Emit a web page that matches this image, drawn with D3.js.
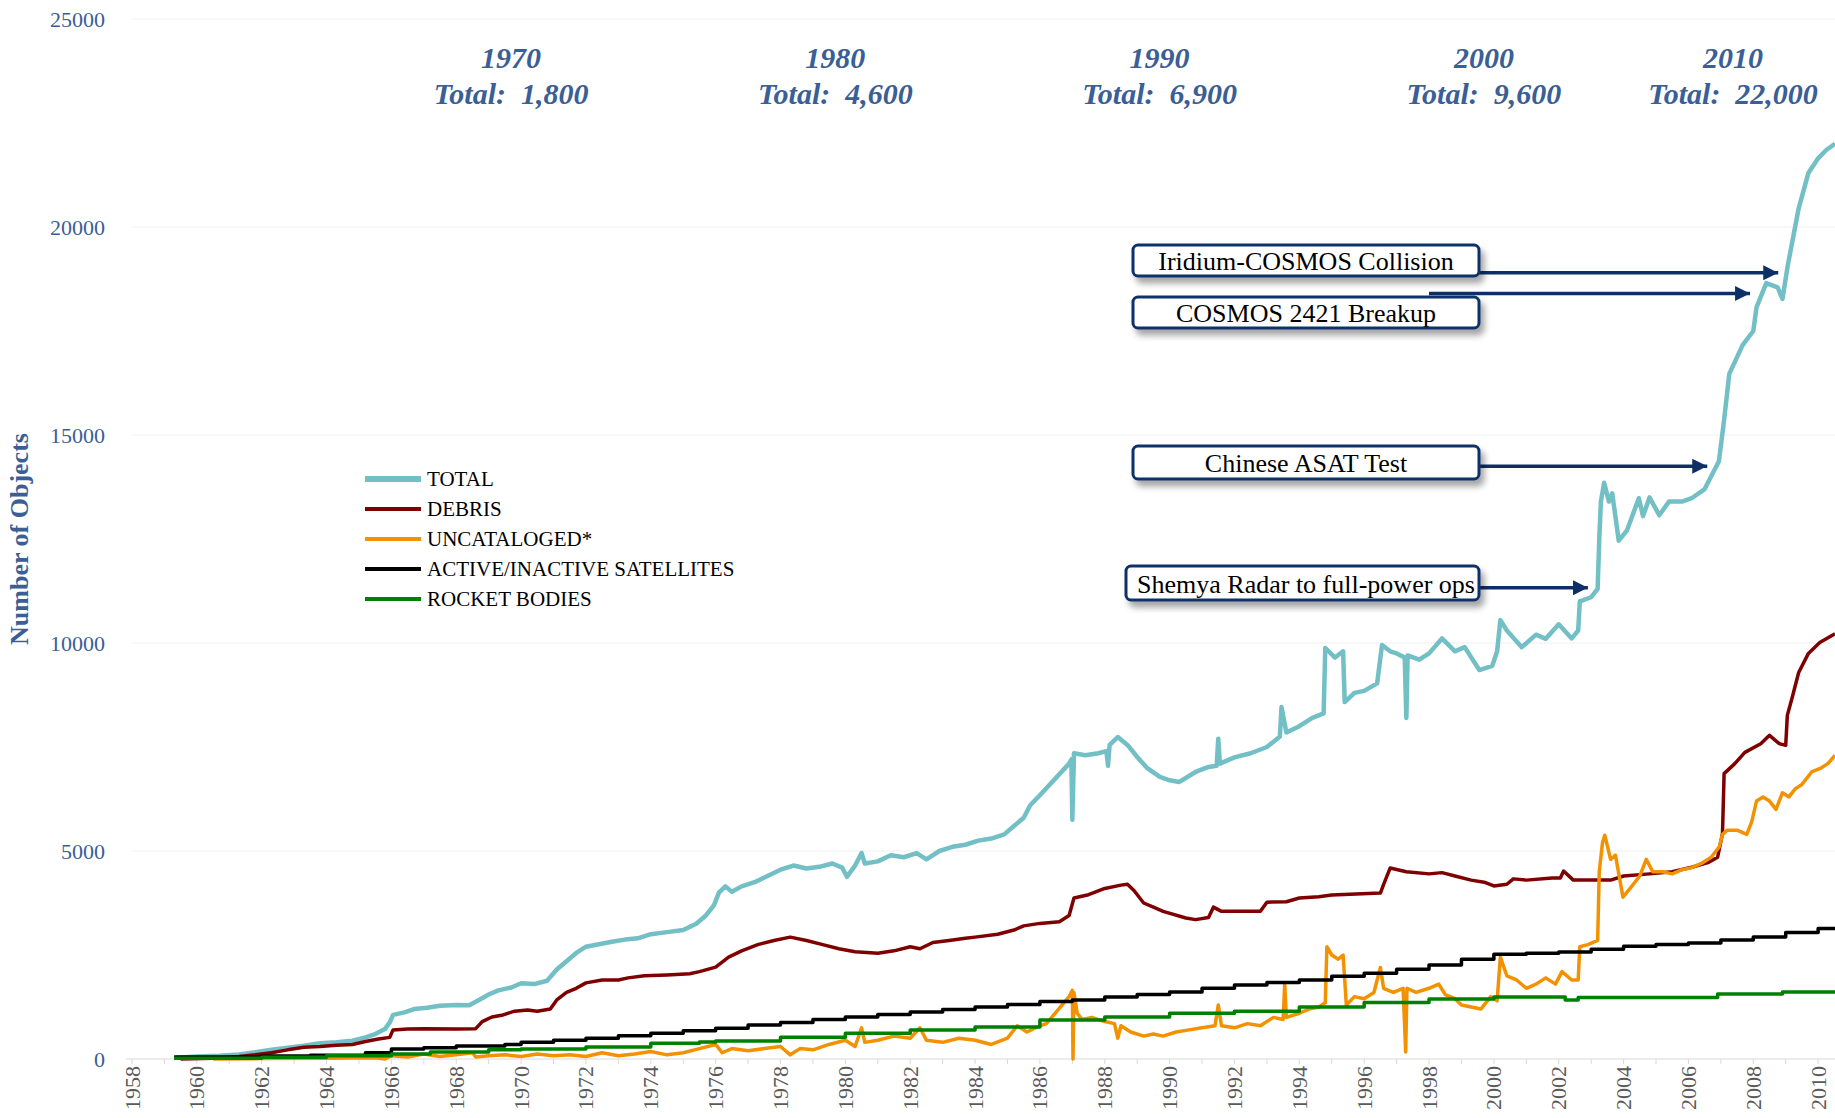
<!DOCTYPE html>
<html>
<head>
<meta charset="utf-8">
<script src="https://cdn.jsdelivr.net/npm/d3@7"></script>
<style>
body {margin: 0; background: #fff;}
svg {display: block;}
</style>
</head>
<body>
<svg id="chart"></svg>
<script>
// values: [year, number of objects]
var totalSeries = [[1959.35,30],[1960,60],[1960.7,80],[1961.3,110],[1961.8,160],[1962.3,220],[1962.8,270],[1963.3,320],[1963.8,380],[1964.3,400],[1964.8,440],[1965.2,520],[1965.5,600],[1965.8,720],[1965.95,880],[1966.05,1060],[1966.4,1120],[1966.7,1200],[1967.1,1230],[1967.5,1280],[1968,1300],[1968.4,1290],[1968.7,1420],[1969,1550],[1969.3,1650],[1969.7,1720],[1970,1820],[1970.4,1800],[1970.8,1880],[1971.1,2150],[1971.4,2350],[1971.7,2550],[1972,2700],[1972.4,2760],[1972.8,2820],[1973.2,2870],[1973.6,2900],[1974,3000],[1974.5,3050],[1975,3100],[1975.4,3250],[1975.7,3450],[1975.95,3700],[1976.1,4000],[1976.3,4150],[1976.5,4020],[1976.8,4150],[1977.2,4250],[1977.6,4400],[1978,4550],[1978.4,4650],[1978.8,4580],[1979.2,4620],[1979.6,4700],[1979.9,4600],[1980.05,4380],[1980.3,4650],[1980.5,4950],[1980.6,4700],[1981,4750],[1981.4,4900],[1981.8,4850],[1982.2,4950],[1982.5,4800],[1982.9,5000],[1983.3,5100],[1983.7,5150],[1984.1,5250],[1984.5,5300],[1984.9,5400],[1985.2,5600],[1985.5,5800],[1985.7,6100],[1985.95,6300],[1986.9,7100],[1986.97,7200],[1987.0,5750],[1987.05,7350],[1987.4,7300],[1987.8,7350],[1988.05,7400],[1988.1,7050],[1988.15,7550],[1988.4,7740],[1988.7,7550],[1989,7260],[1989.3,7000],[1989.7,6780],[1990,6700],[1990.3,6660],[1990.8,6900],[1991.2,7020],[1991.45,7050],[1991.5,7700],[1991.55,7100],[1992,7250],[1992.5,7350],[1993,7500],[1993.4,7750],[1993.45,8460],[1993.6,7850],[1994,8000],[1994.4,8200],[1994.75,8310],[1994.8,9880],[1995.1,9650],[1995.35,9800],[1995.4,8580],[1995.7,8800],[1996,8850],[1996.4,9030],[1996.55,9950],[1996.8,9800],[1997,9750],[1997.25,9650],[1997.3,8200],[1997.34,9700],[1997.7,9600],[1998,9750],[1998.4,10110],[1998.8,9800],[1999.1,9900],[1999.55,9350],[1999.95,9450],[2000.1,9800],[2000.2,10550],[2000.4,10300],[2000.86,9900],[2001.3,10200],[2001.6,10100],[2002,10450],[2002.4,10110],[2002.6,10300],[2002.65,11000],[2003,11100],[2003.2,11300],[2003.25,12500],[2003.3,13400],[2003.4,13850],[2003.55,13400],[2003.65,13600],[2003.85,12460],[2004.1,12700],[2004.47,13480],[2004.6,13050],[2004.8,13500],[2005.1,13070],[2005.4,13400],[2005.8,13400],[2006.1,13480],[2006.5,13700],[2006.75,14080],[2006.94,14370],[2007.1,15360],[2007.26,16470],[2007.67,17160],[2008,17500],[2008.1,18070],[2008.4,18650],[2008.75,18550],[2008.9,18270],[2009.06,19060],[2009.4,20450],[2009.7,21300],[2010,21650],[2010.25,21850],[2010.52,22000]]

var debrisSeries = [[1959.5,0],[1960.5,20],[1961.3,60],[1961.8,100],[1962.3,150],[1962.8,220],[1963.3,280],[1963.8,300],[1964.3,330],[1964.8,350],[1965.2,420],[1965.6,480],[1965.95,520],[1966.05,700],[1966.5,720],[1967,730],[1968,720],[1968.6,730],[1968.8,900],[1969.1,1010],[1969.4,1050],[1969.8,1150],[1970.2,1180],[1970.5,1150],[1970.9,1200],[1971.1,1420],[1971.4,1600],[1971.7,1700],[1972,1830],[1972.5,1900],[1973,1900],[1973.3,1950],[1973.8,2000],[1974.5,2020],[1975.2,2050],[1975.5,2100],[1976,2210],[1976.4,2450],[1976.8,2600],[1977.3,2750],[1977.8,2850],[1978.3,2930],[1978.8,2850],[1979.3,2750],[1979.8,2650],[1980.3,2580],[1981,2540],[1981.5,2600],[1982,2700],[1982.3,2650],[1982.7,2800],[1983.2,2850],[1983.7,2900],[1984,2930],[1984.7,3000],[1985.2,3100],[1985.5,3200],[1986,3260],[1986.6,3300],[1986.9,3450],[1987.05,3870],[1987.5,3950],[1988,4100],[1988.5,4180],[1988.7,4200],[1988.9,4050],[1989.2,3750],[1989.5,3650],[1989.8,3550],[1990.5,3390],[1990.8,3350],[1991.2,3400],[1991.35,3650],[1991.6,3550],[1992,3550],[1992.8,3550],[1993,3770],[1993.6,3780],[1994,3870],[1994.6,3900],[1995,3940],[1996.5,3990],[1996.6,4200],[1996.8,4590],[1997.3,4500],[1998,4450],[1998.4,4480],[1998.8,4400],[1999.3,4300],[1999.7,4250],[2000,4160],[2000.4,4200],[2000.6,4330],[2001,4300],[2001.8,4350],[2002.05,4350],[2002.15,4520],[2002.45,4300],[2003,4300],[2003.6,4300],[2004,4400],[2004.8,4450],[2005.5,4500],[2006.1,4610],[2006.6,4720],[2006.9,4850],[2007.05,5420],[2007.1,6860],[2007.43,7100],[2007.74,7370],[2008.23,7580],[2008.5,7780],[2008.8,7580],[2009.0,7540],[2009.05,8260],[2009.2,8690],[2009.4,9290],[2009.7,9750],[2010.05,10010],[2010.52,10220]]

var uncatSeries = [[1960.5,0],[1962,10],[1964,20],[1965.5,30],[1965.8,0],[1966,80],[1966.5,50],[1967,120],[1967.5,60],[1968,100],[1968.5,150],[1968.6,50],[1969,80],[1969.5,100],[1970,60],[1970.5,120],[1971,80],[1971.5,100],[1972,60],[1972.5,150],[1973,80],[1973.5,120],[1974,180],[1974.5,100],[1975,150],[1975.5,250],[1976,350],[1976.2,150],[1976.5,250],[1977,200],[1977.5,250],[1978,300],[1978.3,100],[1978.6,250],[1979,220],[1979.5,350],[1980,450],[1980.3,300],[1980.5,750],[1980.6,400],[1981,450],[1981.5,550],[1982,500],[1982.3,750],[1982.5,450],[1983,400],[1983.5,500],[1984,450],[1984.5,350],[1985,500],[1985.3,800],[1985.6,650],[1986,800],[1986.2,850],[1986.9,1500],[1987.0,1650],[1987.02,0],[1987.05,1600],[1987.15,1100],[1987.3,950],[1987.6,1000],[1988,900],[1988.3,850],[1988.4,500],[1988.5,800],[1988.8,650],[1989.2,550],[1989.5,600],[1989.8,550],[1990.2,650],[1990.6,700],[1991,750],[1991.4,800],[1991.5,1300],[1991.6,800],[1992,750],[1992.4,850],[1992.8,800],[1993.2,1000],[1993.5,950],[1993.55,1800],[1993.6,1000],[1994,1100],[1994.3,1200],[1994.6,1250],[1994.8,1350],[1994.85,2700],[1995,2500],[1995.2,2400],[1995.35,2500],[1995.45,1300],[1995.7,1500],[1996,1450],[1996.3,1600],[1996.5,2200],[1996.6,1700],[1996.9,1600],[1997.2,1700],[1997.28,170],[1997.32,1700],[1997.6,1600],[1998,1700],[1998.3,1800],[1998.5,1550],[1998.8,1450],[1999,1300],[1999.3,1250],[1999.6,1200],[1999.9,1500],[2000.1,1400],[2000.2,2450],[2000.4,2000],[2000.7,1900],[2001,1700],[2001.3,1800],[2001.6,1950],[2001.9,1800],[2002.1,2100],[2002.4,1900],[2002.6,1900],[2002.65,2700],[2002.9,2750],[2003.2,2850],[2003.25,4500],[2003.35,5200],[2003.42,5380],[2003.6,4800],[2003.75,4900],[2003.98,3890],[2004.2,4100],[2004.5,4400],[2004.7,4800],[2004.9,4500],[2005.2,4500],[2005.5,4450],[2005.8,4550],[2006.1,4600],[2006.4,4700],[2006.7,4850],[2006.95,5100],[2007.05,5400],[2007.2,5500],[2007.5,5500],[2007.8,5400],[2007.95,5700],[2008.1,6200],[2008.3,6300],[2008.5,6200],[2008.7,6000],[2008.9,6400],[2009.1,6300],[2009.3,6500],[2009.5,6600],[2009.8,6900],[2010.1,7000],[2010.3,7100],[2010.52,7300]]

var satSeries = [[1959.3,50],[1962,70],[1963.5,90],[1965.2,150],[1966,240],[1967,270],[1968,310],[1969.5,350],[1970,400],[1971,450],[1972,500],[1973,560],[1974,620],[1975,680],[1976,740],[1977,820],[1978,880],[1979,950],[1980,1010],[1981,1070],[1982,1130],[1983,1190],[1984,1250],[1985,1310],[1986,1380],[1987,1420],[1988,1490],[1989,1550],[1990,1610],[1991,1700],[1992,1780],[1993,1840],[1994,1900],[1995,1990],[1996,2060],[1997,2160],[1998,2260],[1999,2400],[2000,2520],[2001,2540],[2002,2570],[2003,2640],[2004,2710],[2005,2750],[2006,2790],[2007,2860],[2008,2930],[2009,3040],[2010,3140],[2010.52,3150]]

var rocketSeries = [[1959.3,20],[1962,40],[1964,80],[1966,120],[1967.2,170],[1969,220],[1970,240],[1972,290],[1974,380],[1975.5,410],[1976,430],[1978,520],[1980,620],[1982,700],[1984,770],[1986,940],[1988,1010],[1990,1100],[1992,1150],[1994,1250],[1996,1360],[1998,1440],[2000,1490],[2002.1,1490],[2002.2,1420],[2002.6,1480],[2006.8,1480],[2006.9,1560],[2008.8,1560],[2008.9,1610],[2010.52,1610]]

var seriesNames = ['TOTAL', 'DEBRIS', 'UNCATALOGED*', 'ACTIVE/INACTIVE SATELLITES', 'ROCKET BODIES']
var seriesData = [totalSeries, debrisSeries, uncatSeries, satSeries, rocketSeries]
var seriesColors = ['#72bfc5', '#7f0000', '#f39200', '#000000', '#008000']

var yTicks = [0, 5000, 10000, 15000, 20000, 25000]
var yearTicks = d3.range(1958, 2011)
var yearLabels = d3.range(1958, 2011, 2)

var decadeYears = [1970, 1980, 1990, 2000, 2010]
var decadeTotals = ['1,800', '4,600', '6,900', '9,600', '22,000']

var eventLabels = ['Iridium-COSMOS Collision', 'COSMOS 2421 Breakup', 'Chinese ASAT Test', 'Shemya Radar to full-power ops']
var eventYears = [2008.77, 2007.9, 2006.58, 2002.9]
var eventValues = [18900, 18400, 14250, 11330]

var width = 1835
var height = 1118

var svg = d3.select('#chart').attr('width', width).attr('height', height)

var x = d3.scaleLinear().domain([1958, 2010.52]).range([132, 1835])
var y = d3.scaleLinear().domain([0, 25000]).range([1059, 19])

var serif = '"Liberation Serif", "Times New Roman", serif'
var blue = '#3a5e96'

var defs = svg.append('defs')
defs.append('marker')
	.attr('id', 'arrowhead')
	.attr('viewBox', '0 -5 10 10')
	.attr('refX', 10)
	.attr('refY', 0)
	.attr('orient', 'auto')
	.attr('markerUnits', 'userSpaceOnUse')
	.attr('markerWidth', 15)
	.attr('markerHeight', 17)
	.append('path')
	.attr('d', 'M0,-5L10,0L0,5Z')
	.attr('fill', '#0c3066')

var shadow = defs.append('filter').attr('id', 'shadow')
	.attr('x', '-10%').attr('y', '-30%').attr('width', '130%').attr('height', '180%')
shadow.append('feDropShadow')
	.attr('dx', 4).attr('dy', 6).attr('stdDeviation', 3)
	.attr('flood-color', '#000').attr('flood-opacity', 0.35)

// grid lines
var grid = svg.append('g')
grid.selectAll('line')
	.data(yTicks)
	.enter().append('line')
	.attr('x1', 132).attr('x2', width)
	.attr('y1', function(d) {return y(d)}).attr('y2', function(d) {return y(d)})
	.attr('stroke', function(d) {return d === 0 ? '#d9d9d9' : '#efefef'})
	.attr('stroke-width', 1)

svg.append('line')
	.attr('x1', 126).attr('x2', 132).attr('y1', y(0)).attr('y2', y(0))
	.attr('stroke', '#d9d9d9')

svg.append('g').selectAll('text')
	.data(yTicks)
	.enter().append('text')
	.attr('x', 105)
	.attr('y', function(d) {return y(d)})
	.attr('text-anchor', 'end')
	.attr('dominant-baseline', 'central')
	.style('font-family', serif)
	.style('font-size', '22px')
	.attr('fill', blue)
	.text(function(d) {return d})

// x axis ticks and rotated labels
svg.append('g').selectAll('line')
	.data(yearTicks)
	.enter().append('line')
	.attr('x1', function(d) {return x(d)}).attr('x2', function(d) {return x(d)})
	.attr('y1', y(0)).attr('y2', y(0) + 5)
	.attr('stroke', '#d9d9d9')

svg.append('g').selectAll('text')
	.data(yearLabels)
	.enter().append('text')
	.attr('transform', function(d) {return 'translate(' + x(d) + ',' + (y(0) + 7) + ') rotate(-90)'})
	.attr('text-anchor', 'end')
	.attr('dominant-baseline', 'central')
	.style('font-family', serif)
	.style('font-size', '22px')
	.attr('fill', '#595959')
	.text(function(d) {return d})

svg.append('text')
	.attr('transform', 'translate(19,539) rotate(-90)')
	.attr('text-anchor', 'middle')
	.attr('dominant-baseline', 'central')
	.style('font-family', serif)
	.style('font-size', '26px')
	.style('font-weight', 'bold')
	.attr('fill', blue)
	.text('Number of Objects')

// series lines
var line = d3.line()
	.x(function(d) {return x(d[0])})
	.y(function(d) {return y(d[1])})

svg.append('g').selectAll('path')
	.data(seriesData)
	.enter().append('path')
	.attr('d', function(d, i) {return line.curve(i >= 3 ? d3.curveStepAfter : d3.curveLinear)(d)})
	.attr('fill', 'none')
	.attr('stroke', function(d, i) {return seriesColors[i]})
	.attr('stroke-width', function(d, i) {return i === 0 ? 4.5 : 3.5})
	.attr('stroke-linejoin', 'round')

// decade totals along the top
var decade = svg.append('g').selectAll('g')
	.data(decadeYears)
	.enter().append('g')
	.attr('transform', function(d) {return 'translate(' + Math.min(x(d) - 10, 1733) + ',0)'})
	.style('font-family', serif)
	.style('font-size', '30px')
	.style('font-weight', 'bold')
	.style('font-style', 'italic')
	.attr('fill', blue)
	.attr('text-anchor', 'middle')

decade.append('text').attr('y', 68).text(function(d) {return d})
decade.append('text').attr('y', 104)
	.style('white-space', 'pre')
	.text(function(d, i) {return 'Total:  ' + decadeTotals[i]})

// event callouts
var boxLeft = 1133, boxRight = 1479
var boxTops = [245, 297, 446, 566]
var boxHeights = [31, 31, 33, 34]

var events = svg.append('g')
events.selectAll('line')
	.data(eventLabels)
	.enter().append('line')
	.attr('x1', function(d, i) {return i === 1 ? 1429 : boxRight})
	.attr('x2', function(d, i) {return x(eventYears[i])})
	.attr('y1', function(d, i) {return y(eventValues[i])})
	.attr('y2', function(d, i) {return y(eventValues[i])})
	.attr('stroke', '#0c3066')
	.attr('stroke-width', 3.5)
	.attr('marker-end', 'url(#arrowhead)')

var box = events.selectAll('g')
	.data(eventLabels)
	.enter().append('g')

box.append('rect')
	.attr('x', function(d, i) {return i === 3 ? boxLeft - 7 : boxLeft})
	.attr('y', function(d, i) {return boxTops[i]})
	.attr('width', function(d, i) {return boxRight - boxLeft + (i === 3 ? 7 : 0)})
	.attr('height', function(d, i) {return boxHeights[i]})
	.attr('rx', 5)
	.attr('fill', '#fff')
	.attr('stroke', '#10336b')
	.attr('stroke-width', 3)
	.attr('filter', 'url(#shadow)')

box.append('text')
	.attr('x', (boxLeft + boxRight) / 2)
	.attr('y', function(d, i) {return boxTops[i] + boxHeights[i] / 2 + 1})
	.attr('text-anchor', 'middle')
	.attr('dominant-baseline', 'central')
	.style('font-family', serif)
	.style('font-size', '26px')
	.attr('fill', '#000')
	.text(function(d) {return d})

// legend
var legend = svg.append('g').selectAll('g')
	.data(seriesNames)
	.enter().append('g')
	.attr('transform', function(d, i) {return 'translate(365,' + (479 + i * 30) + ')'})

legend.append('line')
	.attr('x1', 0).attr('x2', 56)
	.attr('stroke', function(d, i) {return seriesColors[i]})
	.attr('stroke-width', function(d, i) {return i === 0 ? 6 : 4})

legend.append('text')
	.attr('x', 62)
	.attr('dominant-baseline', 'central')
	.style('font-family', serif)
	.style('font-size', '21px')
	.attr('fill', '#000')
	.text(function(d) {return d})
</script>
</body>
</html>
